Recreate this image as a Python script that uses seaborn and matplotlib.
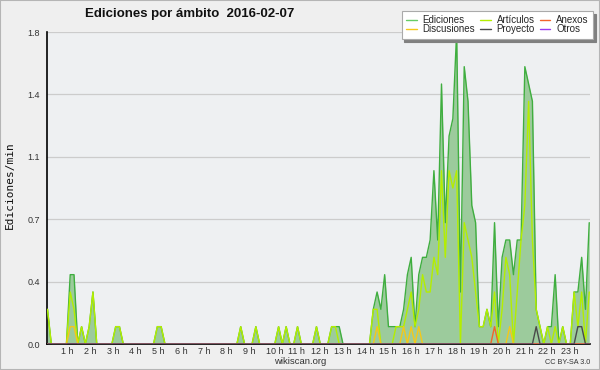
import matplotlib
matplotlib.use("Agg")
import matplotlib.pyplot as plt
import matplotlib.patches as mpatches
import numpy as np
import pandas as pd
import seaborn as sns

# ---- data (10-minute bins, edits per minute) ----
bins = list(range(144))
hour_labels = [f"{h} h" for h in range(1, 24)]
hour_values = list(range(1, 24))

ediciones = [
    0.2, 0, 0, 0, 0, 0, 0.4, 0.4, 0, 0.1, 0, 0.1, 0.3, 0, 0, 0, 0, 0, 0.1, 0.1, 0, 0, 0, 0,
    0, 0, 0, 0, 0, 0.1, 0.1, 0, 0, 0, 0, 0, 0, 0, 0, 0, 0, 0, 0, 0, 0, 0, 0, 0,
    0, 0, 0, 0.1, 0, 0, 0, 0.1, 0, 0, 0, 0, 0, 0.1, 0, 0.1, 0, 0, 0.1, 0, 0, 0, 0, 0.1,
    0, 0, 0, 0.1, 0.1, 0.1, 0, 0, 0, 0, 0, 0, 0, 0, 0.2, 0.3, 0.2, 0.4, 0.1, 0.1, 0.1, 0.1, 0.2, 0.4,
    0.5, 0.1, 0.4, 0.5, 0.5, 0.6, 1.0, 0.6, 1.5, 0.7, 1.2, 1.3, 1.8, 0.3, 1.6, 1.4, 0.8, 0.7, 0.1, 0.1, 0.2, 0.1, 0.7, 0.1,
    0.5, 0.6, 0.6, 0.4, 0.6, 0.6, 1.6, 1.5, 1.4, 0.2, 0.1, 0, 0.1, 0.1, 0.4, 0, 0.1, 0, 0, 0.3, 0.3, 0.5, 0.2, 0.7,
]
articulos = [
    0.2, 0, 0, 0, 0, 0, 0.3, 0.2, 0, 0.1, 0, 0.1, 0.3, 0, 0, 0, 0, 0, 0.1, 0.1, 0, 0, 0, 0,
    0, 0, 0, 0, 0, 0.1, 0.1, 0, 0, 0, 0, 0, 0, 0, 0, 0, 0, 0, 0, 0, 0, 0, 0, 0,
    0, 0, 0, 0.1, 0, 0, 0, 0.1, 0, 0, 0, 0, 0, 0.1, 0, 0.1, 0, 0, 0.1, 0, 0, 0, 0, 0.1,
    0, 0, 0, 0.1, 0.1, 0, 0, 0, 0, 0, 0, 0, 0, 0, 0.2, 0.2, 0, 0, 0, 0, 0.1, 0.1, 0.1, 0.2,
    0.3, 0.1, 0.2, 0.4, 0.3, 0.3, 0.5, 0.4, 1.0, 0.5, 1.0, 0.9, 1.0, 0, 0.7, 0.6, 0.5, 0.3, 0.1, 0.1, 0.2, 0.1, 0.3, 0,
    0.2, 0.5, 0.4, 0, 0.3, 0.6, 0.8, 1.4, 0.6, 0.2, 0.1, 0, 0.1, 0, 0.1, 0, 0.1, 0, 0, 0.3, 0.1, 0.3, 0, 0.3,
]
discusiones = [
    0, 0, 0, 0, 0, 0, 0.1, 0.1, 0, 0, 0, 0, 0, 0, 0, 0, 0, 0, 0, 0, 0, 0, 0, 0,
    0, 0, 0, 0, 0, 0, 0, 0, 0, 0, 0, 0, 0, 0, 0, 0, 0, 0, 0, 0, 0, 0, 0, 0,
    0, 0, 0, 0, 0, 0, 0, 0, 0, 0, 0, 0, 0, 0, 0, 0, 0, 0, 0, 0, 0, 0, 0, 0,
    0, 0, 0, 0, 0, 0, 0, 0, 0, 0, 0, 0, 0, 0, 0, 0.1, 0, 0, 0, 0, 0, 0, 0.1, 0,
    0.1, 0, 0.1, 0, 0, 0, 0, 0, 0, 0, 0, 0, 0, 0, 0, 0, 0, 0, 0, 0, 0, 0, 0, 0,
    0, 0, 0.1, 0, 0, 0, 0, 0, 0, 0, 0, 0, 0, 0, 0, 0, 0, 0, 0, 0, 0, 0, 0, 0,
]
anexos = [
    0, 0, 0, 0, 0, 0, 0, 0, 0, 0, 0, 0, 0, 0, 0, 0, 0, 0, 0, 0, 0, 0, 0, 0,
    0, 0, 0, 0, 0, 0, 0, 0, 0, 0, 0, 0, 0, 0, 0, 0, 0, 0, 0, 0, 0, 0, 0, 0,
    0, 0, 0, 0, 0, 0, 0, 0, 0, 0, 0, 0, 0, 0, 0, 0, 0, 0, 0, 0, 0, 0, 0, 0,
    0, 0, 0, 0, 0, 0, 0, 0, 0, 0, 0, 0, 0, 0, 0, 0, 0, 0, 0, 0, 0, 0, 0, 0,
    0, 0, 0, 0, 0, 0, 0, 0, 0, 0, 0, 0, 0, 0, 0, 0, 0, 0, 0, 0, 0, 0, 0.1, 0,
    0, 0, 0, 0, 0, 0, 0, 0, 0, 0, 0, 0, 0, 0, 0, 0, 0, 0, 0, 0, 0, 0, 0, 0,
]
proyecto = [
    0, 0, 0, 0, 0, 0, 0, 0, 0, 0, 0, 0, 0, 0, 0, 0, 0, 0, 0, 0, 0, 0, 0, 0,
    0, 0, 0, 0, 0, 0, 0, 0, 0, 0, 0, 0, 0, 0, 0, 0, 0, 0, 0, 0, 0, 0, 0, 0,
    0, 0, 0, 0, 0, 0, 0, 0, 0, 0, 0, 0, 0, 0, 0, 0, 0, 0, 0, 0, 0, 0, 0, 0,
    0, 0, 0, 0, 0, 0, 0, 0, 0, 0, 0, 0, 0, 0, 0, 0, 0, 0, 0, 0, 0, 0, 0, 0,
    0, 0, 0, 0, 0, 0, 0, 0, 0, 0, 0, 0, 0, 0, 0, 0, 0, 0, 0, 0, 0, 0, 0, 0,
    0, 0, 0, 0, 0, 0, 0, 0, 0, 0.1, 0, 0, 0, 0, 0, 0, 0, 0, 0, 0, 0.1, 0.1, 0, 0,
]
otros = [
    0, 0, 0, 0, 0, 0, 0, 0, 0, 0, 0, 0, 0, 0, 0, 0, 0, 0, 0, 0, 0, 0, 0, 0,
    0, 0, 0, 0, 0, 0, 0, 0, 0, 0, 0, 0, 0, 0, 0, 0, 0, 0, 0, 0, 0, 0, 0, 0,
    0, 0, 0, 0, 0, 0, 0, 0, 0, 0, 0, 0, 0, 0, 0, 0, 0, 0, 0, 0, 0, 0, 0, 0,
    0, 0, 0, 0, 0, 0, 0, 0, 0, 0, 0, 0, 0, 0, 0, 0, 0, 0, 0, 0, 0, 0, 0, 0,
    0, 0, 0, 0, 0, 0, 0, 0, 0, 0, 0, 0, 0, 0, 0, 0, 0, 0, 0, 0, 0, 0, 0, 0,
    0, 0, 0, 0, 0, 0, 0, 0, 0, 0, 0, 0, 0, 0, 0, 0, 0, 0, 0, 0, 0, 0, 0, 0,
]
y_ticks = [0.0, 0.36, 0.72, 1.08, 1.44, 1.8]

series_names = ["Ediciones", "Discusiones", "Artículos", "Proyecto", "Anexos", "Otros"]
series_values = [ediciones, discusiones, articulos, proyecto, anexos, otros]
colors = {
    "Ediciones": "#3fae3f",
    "Artículos": "#b4ee00",
    "Discusiones": "#f5c818",
    "Anexos": "#f2642a",
    "Proyecto": "#4a4a4a",
    "Otros": "#9a3cf0",
}
legend_colors = dict(colors)
legend_colors["Ediciones"] = "#66cc66"

df = pd.DataFrame({"bin": bins, **dict(zip(series_names, series_values))})

# ---- figure ----
sns.set_style("white")
plt.rcParams["font.family"] = ["Liberation Sans", "DejaVu Sans"]
fig = plt.figure(figsize=(6.0, 3.7), dpi=100, facecolor="#efefef")
W, H = 600, 370
ax = fig.add_axes([47 / W, 26 / H, 543 / W, 312 / H])
ax.set_facecolor("#eef0f2")

ax.fill_between(df["bin"], df["Ediciones"], 0, color="#9ccb9c", linewidth=0, zorder=2)
draw_order = ["Ediciones", "Artículos", "Discusiones", "Anexos", "Proyecto", "Otros"]
for i, name in enumerate(draw_order):
    sns.lineplot(data=df, x="bin", y=name, ax=ax, color=colors[name], linewidth=1.0,
                 zorder=3 + i, legend=False)

ax.set_xlim(-0.13, 143.2)
ax.set_ylim(0, 1.8)

# y axis
ax.set_yticks(y_ticks)
ax.set_yticklabels([f"{v:.1f}" for v in y_ticks])
ax.set_yticks([k * 0.06 for k in range(31)], minor=True)
ax.yaxis.grid(True, which="major", color="#cccccc", linewidth=0.9, zorder=1)
ax.set_axisbelow(True)

# x axis
ax.set_xticks([6 * h - 2.4 for h in hour_values])
ax.set_xticklabels(hour_labels)
ax.set_xticks(bins, minor=True)
for lab in ax.get_xticklabels():
    lab.set_horizontalalignment("left")

ax.tick_params(axis="x", which="major", length=0, pad=2, labelsize=6.5, colors="#333333")
ax.tick_params(axis="x", which="minor", length=3.5, width=0.8, direction="out", color="black")
ax.tick_params(axis="y", which="major", length=4, width=0.8, labelsize=6.5, pad=1,
               colors="#333333")
ax.tick_params(axis="y", which="both", color="black")
ax.tick_params(axis="y", which="minor", length=3, width=0.8)

for s in ["top", "right"]:
    ax.spines[s].set_visible(False)
for s in ["left", "bottom"]:
    ax.spines[s].set_color("black")
    ax.spines[s].set_linewidth(1.2)

ax.set_xlabel("")
ax.set_ylabel("")
fig.text(10 / W, 1 - 185 / H, "Ediciones/min", rotation=90, ha="center", va="center",
         fontsize=8, family="DejaVu Sans Mono", color="#111111")

fig.text(85 / W, 1 - 14 / H, "Ediciones por ámbito  2016-02-07", ha="left", va="center",
         fontsize=9.5, fontweight="bold", color="#111111")
fig.text(300 / W, 1 - 361 / H, "wikiscan.org", ha="center", va="center", fontsize=6.8,
         color="#333333")
fig.text(590 / W, 1 - 362 / H, "CC BY-SA 3.0", ha="right", va="center", fontsize=5.2,
         color="#333333")

handles = [plt.Line2D([], [], color=legend_colors[n], linewidth=1.0) for n in series_names]
leg = fig.legend(handles, series_names, loc="upper right", bbox_to_anchor=(593 / W, 1 - 11 / H),
                 ncol=3, frameon=True, fancybox=False, shadow={"color": "#808080", "alpha": 1},
                 handlelength=1.1, handletextpad=0.6, columnspacing=0.5,
                 labelspacing=-0.1, borderpad=0.45, borderaxespad=0,
                 prop={"family": "Liberation Sans", "size": 7})
leg.get_frame().set_edgecolor("#aaaaaa")
leg.get_frame().set_linewidth(0.8)

fig.patches.append(mpatches.Rectangle((0, 0), 1, 1, transform=fig.transFigure, fill=False,
                                      edgecolor="#b5b5b5", linewidth=1.5))

fig.savefig("out.png", dpi=100, facecolor=fig.get_facecolor())
